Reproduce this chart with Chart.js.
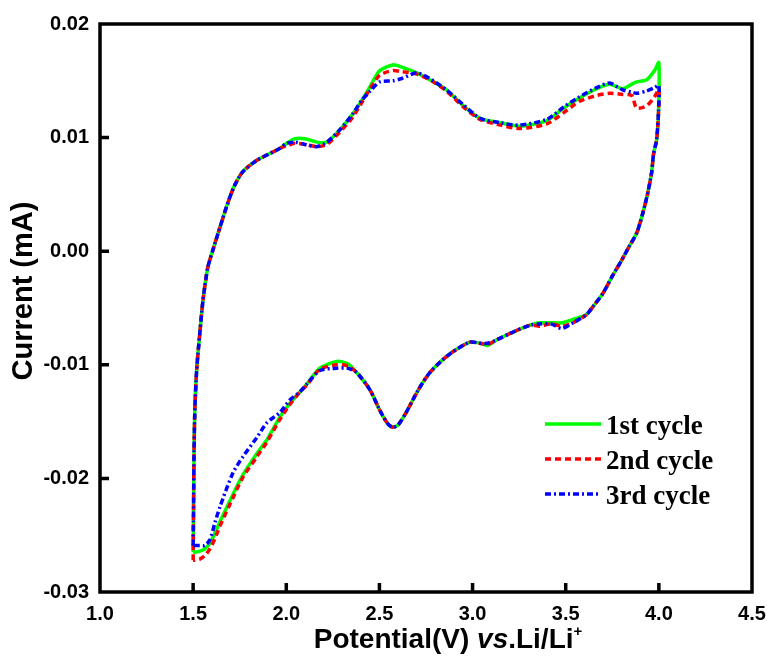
<!DOCTYPE html>
<html>
<head>
<meta charset="utf-8">
<script src="https://cdn.jsdelivr.net/npm/chart.js@4"></script>
<style>
  body { margin: 0; background: #fff; }
  canvas { display: block; }
</style>
</head>
<body>
<canvas id="cvChart" width="767" height="656"></canvas>
<script>
// Potential (V) along the loop: anodic sweep 1.5 -> 4.0, then cathodic sweep 4.0 -> 1.5
const potential = [
  1.500, 1.502, 1.505, 1.510, 1.520, 1.536, 1.553, 1.579, 1.606, 1.644,
  1.681, 1.720, 1.767, 1.842, 1.912, 1.960, 2.003, 2.046, 2.100, 2.164,
  2.218, 2.288, 2.357, 2.406, 2.450, 2.502, 2.572, 2.620, 2.700, 2.780,
  2.860, 2.950, 3.040, 3.150, 3.253, 3.398, 3.490, 3.575, 3.666, 3.736,
  3.806, 3.854, 3.881, 3.935, 3.977, 4.000,
  3.998, 3.988, 3.972, 3.961, 3.940, 3.913, 3.881, 3.840, 3.800, 3.750,
  3.700, 3.650, 3.610, 3.540, 3.480, 3.420, 3.360, 3.310, 3.220, 3.130,
  3.080, 3.040, 2.985, 2.890, 2.830, 2.770, 2.720, 2.679, 2.640, 2.600,
  2.572, 2.545, 2.502, 2.449, 2.379, 2.330, 2.271, 2.180, 2.110, 2.073,
  2.019, 1.966, 1.896, 1.842, 1.767, 1.714, 1.644, 1.617, 1.590, 1.563,
  1.536, 1.510, 1.500
];

// Current (mA) for each cycle, same order as potential
const cycle1 = [
  -0.0265, -0.0230, -0.0175, -0.0135, -0.0102, -0.0072, -0.0043, -0.0014, 0.0001, 0.0021,
  0.0040, 0.0057, 0.0070, 0.0080, 0.0086, 0.0090, 0.0095, 0.0099, 0.0099, 0.0096,
  0.0096, 0.0107, 0.0121, 0.0133, 0.0145, 0.0159, 0.0164, 0.0162, 0.0157, 0.0150,
  0.0142, 0.0128, 0.0117, 0.0113, 0.0110, 0.0115, 0.0126, 0.0135, 0.0143, 0.0147,
  0.0143, 0.0147, 0.0149, 0.0151, 0.0159, 0.0166,
  0.0122, 0.0098, 0.0086, 0.0069, 0.0051, 0.0033, 0.0016, 0.0004, -0.0008, -0.0022,
  -0.0037, -0.0048, -0.0056, -0.0060, -0.0063, -0.0063, -0.0063, -0.0065, -0.0071, -0.0078,
  -0.0083, -0.0081, -0.0080, -0.0089, -0.0097, -0.0107, -0.0119, -0.0131, -0.0143, -0.0153,
  -0.0155, -0.0152, -0.0140, -0.0122, -0.0107, -0.0099, -0.0097, -0.0103, -0.0117, -0.0124,
  -0.0134, -0.0146, -0.0166, -0.0178, -0.0197, -0.0214, -0.0238, -0.0248, -0.0257, -0.0262,
  -0.0264, -0.0265, -0.0265
];

const cycle2 = [
  -0.0272, -0.0230, -0.0175, -0.0135, -0.0102, -0.0072, -0.0043, -0.0014, 0.0001, 0.0021,
  0.0040, 0.0057, 0.0070, 0.0080, 0.0086, 0.0090, 0.0093, 0.0095, 0.0094, 0.0092,
  0.0094, 0.0105, 0.0118, 0.0131, 0.0143, 0.0155, 0.0159, 0.0158, 0.0156, 0.0150,
  0.0141, 0.0127, 0.0116, 0.0111, 0.0108, 0.0112, 0.0122, 0.0132, 0.0137, 0.0139,
  0.0138, 0.0137, 0.0126, 0.0128, 0.0136, 0.0142,
  0.0122, 0.0098, 0.0086, 0.0069, 0.0051, 0.0033, 0.0016, 0.0004, -0.0008, -0.0022,
  -0.0037, -0.0048, -0.0056, -0.0063, -0.0066, -0.0064, -0.0066, -0.0065, -0.0071, -0.0078,
  -0.0082, -0.0081, -0.0080, -0.0089, -0.0097, -0.0107, -0.0119, -0.0131, -0.0143, -0.0153,
  -0.0155, -0.0152, -0.0140, -0.0122, -0.0107, -0.0101, -0.0100, -0.0104, -0.0118, -0.0124,
  -0.0135, -0.0148, -0.0168, -0.0181, -0.0199, -0.0217, -0.0242, -0.0253, -0.0262, -0.0268,
  -0.0271, -0.0272, -0.0272
];

const cycle3 = [
  -0.0259, -0.0230, -0.0175, -0.0135, -0.0102, -0.0072, -0.0043, -0.0014, 0.0001, 0.0021,
  0.0040, 0.0057, 0.0070, 0.0080, 0.0086, 0.0090, 0.0095, 0.0096, 0.0094, 0.0092,
  0.0096, 0.0107, 0.0121, 0.0133, 0.0141, 0.0149, 0.0150, 0.0152, 0.0157, 0.0151,
  0.0142, 0.0129, 0.0117, 0.0113, 0.0111, 0.0116, 0.0127, 0.0136, 0.0144, 0.0148,
  0.0142, 0.0140, 0.0139, 0.0141, 0.0144, 0.0146,
  0.0122, 0.0098, 0.0086, 0.0069, 0.0051, 0.0033, 0.0016, 0.0004, -0.0008, -0.0022,
  -0.0037, -0.0048, -0.0056, -0.0063, -0.0068, -0.0064, -0.0064, -0.0065, -0.0071, -0.0078,
  -0.0081, -0.0081, -0.0080, -0.0089, -0.0097, -0.0107, -0.0119, -0.0131, -0.0143, -0.0153,
  -0.0155, -0.0152, -0.0140, -0.0122, -0.0107, -0.0103, -0.0103, -0.0105, -0.0117, -0.0124,
  -0.0131, -0.0142, -0.0151, -0.0164, -0.0181, -0.0195, -0.0225, -0.0239, -0.0254, -0.0259,
  -0.0259, -0.0259, -0.0259
];

const cycleLabels = ['1st cycle', '2nd cycle', '3rd cycle'];

function toPoints(currents) {
  return potential.map((v, i) => ({ x: v, y: currents[i] }));
}

const sansBold = px => 'bold ' + px + 'px "Liberation Sans", Arial, sans-serif';

// frame, inward ticks, in-plot legend and both axis titles
const decorations = {
  id: 'decorations',
  afterDraw(chart) {
    const ctx = chart.ctx;
    const area = chart.chartArea;
    const xs = chart.scales.x;
    const ys = chart.scales.y;
    ctx.save();

    ctx.strokeStyle = '#000';
    ctx.lineWidth = 3.5;
    ctx.strokeRect(area.left, area.top, area.right - area.left, area.bottom - area.top);

    ctx.beginPath();
    ys.ticks.forEach(t => {
      const py = ys.getPixelForValue(t.value);
      if (py > area.top + 2 && py < area.bottom - 2) {
        ctx.moveTo(area.left, py);
        ctx.lineTo(area.left + 9, py);
      }
    });
    xs.ticks.forEach(t => {
      const px = xs.getPixelForValue(t.value);
      if (px > area.left + 2 && px < area.right - 2) {
        ctx.moveTo(px, area.bottom);
        ctx.lineTo(px, area.bottom - 9);
      }
    });
    ctx.stroke();

    // legend
    ctx.font = 'bold 27px "Liberation Serif", "Times New Roman", serif';
    ctx.textBaseline = 'alphabetic';
    ctx.textAlign = 'left';
    chart.data.datasets.forEach((ds, i) => {
      const y = 424 + i * 35;
      ctx.beginPath();
      ctx.setLineDash(ds.borderDash || []);
      ctx.strokeStyle = ds.borderColor;
      ctx.lineWidth = ds.borderWidth;
      ctx.moveTo(545, y);
      ctx.lineTo(601, y);
      ctx.stroke();
      ctx.setLineDash([]);
      ctx.fillStyle = '#000';
      ctx.fillText(ds.label, 606, y + 10);
    });

    // y axis title
    ctx.fillStyle = '#000';
    ctx.save();
    ctx.translate(32, 291);
    ctx.rotate(-Math.PI / 2);
    ctx.font = sansBold(29);
    ctx.textAlign = 'center';
    ctx.fillText('Current (mA)', 0, 0);
    ctx.restore();

    // x axis title: Potential(V) vs.Li/Li+
    const parts = [
      { t: 'Potential(V) ', f: sansBold(28), dy: 0 },
      { t: 'vs', f: 'italic ' + sansBold(28), dy: 0 },
      { t: '.Li/Li', f: sansBold(28), dy: 0 },
      { t: '+', f: sansBold(15), dy: -12 }
    ];
    let total = 0;
    parts.forEach(p => { ctx.font = p.f; p.w = ctx.measureText(p.t).width; total += p.w; });
    let cx = 448 - total / 2;
    const base = 648;
    ctx.textAlign = 'left';
    parts.forEach(p => {
      ctx.font = p.f;
      ctx.fillText(p.t, cx, base + p.dy);
      cx += p.w;
    });

    ctx.restore();
  }
};

const tickFont = { family: '"Liberation Sans", Arial, sans-serif', size: 20, weight: 'bold' };

new Chart(document.getElementById('cvChart').getContext('2d'), {
  type: 'scatter',
  data: {
    datasets: [
      {
        label: cycleLabels[0],
        data: toPoints(cycle1),
        borderColor: '#00ff00',
        borderWidth: 3.5,
        order: 3
      },
      {
        label: cycleLabels[1],
        data: toPoints(cycle2),
        borderColor: '#ff0000',
        borderWidth: 3.5,
        borderDash: [6, 4],
        order: 2
      },
      {
        label: cycleLabels[2],
        data: toPoints(cycle3),
        borderColor: '#0000ff',
        borderWidth: 3.5,
        borderDash: [6, 3, 2, 3],
        order: 1
      }
    ]
  },
  options: {
    responsive: false,
    animation: false,
    showLine: true,
    elements: {
      point: { radius: 0, hoverRadius: 0 },
      line: { tension: 0.25, fill: false }
    },
    layout: { padding: { left: 0, top: 24, right: 15, bottom: 0 } },
    plugins: {
      legend: { display: false },
      tooltip: { enabled: false }
    },
    scales: {
      x: {
        type: 'linear',
        min: 1.0,
        max: 4.5,
        grid: { display: false, drawTicks: false },
        border: { display: false },
        ticks: {
          stepSize: 0.5,
          color: '#000',
          font: tickFont,
          padding: 10,
          callback: v => Number(v).toFixed(1)
        },
        afterFit: s => { s.height = 64; s.paddingLeft = 0; s.paddingRight = 0; }
      },
      y: {
        type: 'linear',
        min: -0.03,
        max: 0.02,
        grid: { display: false, drawTicks: false },
        border: { display: false },
        ticks: {
          stepSize: 0.01,
          color: '#000',
          font: tickFont,
          padding: 11,
          callback: v => (Math.abs(v) < 1e-9 ? '0.00' : Number(v).toFixed(2))
        },
        afterFit: s => { s.width = 100; }
      }
    }
  },
  plugins: [decorations]
});
</script>
</body>
</html>
